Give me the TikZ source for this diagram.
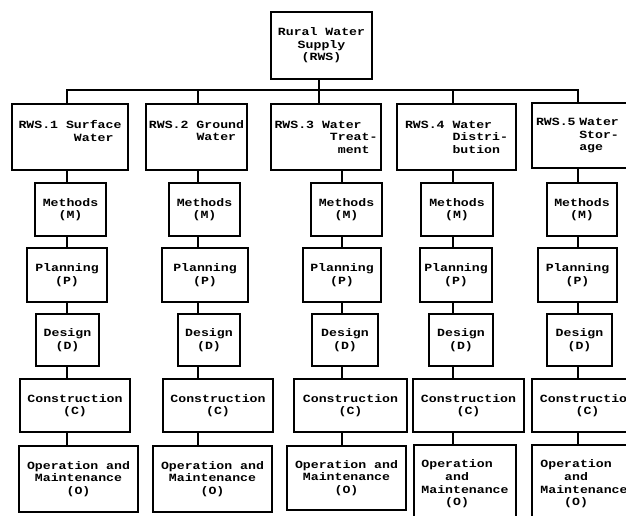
\documentclass[tikz,border=0pt]{standalone}
\usepackage{fontspec}
\newfontfamily\twfont[FakeStretch=1.2]{Liberation Mono}
\begin{document}
\begin{tikzpicture}[x=1pt,y=-1pt,
  box/.style={draw,line width=1.1pt,inner sep=0pt,align=center,
    font=\twfont\bfseries\fontsize{11}{12.6}\selectfont},
  link/.style={line width=1.1pt}]
\useasboundingbox (0,0) rectangle (626,516);
\clip (0,0) rectangle (626,516);
% top
\node[box,minimum width=101,minimum height=67] (top) at (321.5,45.5) {Rural Water\\Supply\\(RWS)};
% level 2
\node[box,minimum width=116,minimum height=66,align=left] (r1) at (70,137) {RWS.1 Surface\\\phantom{RWS.1 S}Water\\\mbox{}};
\node[box,minimum width=101,minimum height=66,align=left] (r2) at (196.5,137) {RWS.2 Ground\\\phantom{RWS.2 }Water\\\mbox{}};
\node[box,minimum width=110,minimum height=66,align=left] (r3) at (326,137) {RWS.3 Water\\\phantom{RWS.3 W}Treat-\\\phantom{RWS.3 Wa}ment};
\node[box,minimum width=119,minimum height=66,align=left] (r4) at (456.5,137) {RWS.4 Water\\\phantom{RWS.4 }Distri-\\\phantom{RWS.4 }bution};
\node[box,inner xsep=4pt,text width=110pt,minimum height=65,align=left] (r5) at (591,135.5) {RWS.5 Water\\\phantom{RWS.5 }Stor-\\\phantom{RWS.5 }age};
% methods
\node[box,minimum width=71,minimum height=53] (m1) at (70.5,209.5) {Methods\\(M)};
\node[box,minimum width=71,minimum height=53] (m2) at (204.5,209.5) {Methods\\(M)};
\node[box,minimum width=71,minimum height=53] (m3) at (346.5,209.5) {Methods\\(M)};
\node[box,minimum width=72,minimum height=53] (m4) at (457,209.5) {Methods\\(M)};
\node[box,minimum width=70,minimum height=53] (m5) at (582,209.5) {Methods\\(M)};
% planning
\node[box,minimum width=80,minimum height=54] (p1) at (67,275) {Planning\\(P)};
\node[box,minimum width=86,minimum height=54] (p2) at (205,275) {Planning\\(P)};
\node[box,minimum width=78,minimum height=54] (p3) at (342,275) {Planning\\(P)};
\node[box,minimum width=72,minimum height=54] (p4) at (456,275) {Planning\\(P)};
\node[box,minimum width=79,minimum height=54] (p5) at (577.5,275) {Planning\\(P)};
% design
\node[box,minimum width=63,minimum height=52] (d1) at (67.5,340) {Design\\(D)};
\node[box,minimum width=62,minimum height=52] (d2) at (209,340) {Design\\(D)};
\node[box,minimum width=66,minimum height=52] (d3) at (345,340) {Design\\(D)};
\node[box,minimum width=64,minimum height=52] (d4) at (461,340) {Design\\(D)};
\node[box,minimum width=65,minimum height=52] (d5) at (579.5,340) {Design\\(D)};
% construction
\node[box,minimum width=110,minimum height=53] (c1) at (75,405.5) {Construction\\(C)};
\node[box,minimum width=110,minimum height=53] (c2) at (218,405.5) {Construction\\(C)};
\node[box,minimum width=113,minimum height=53] (c3) at (350.5,405.5) {Construction\\(C)};
\node[box,minimum width=111,minimum height=53] (c4) at (468.5,405.5) {Construction\\(C)};
\node[box,minimum width=111,minimum height=53] (c5) at (587.5,405.5) {Construction\\(C)};
% operation and maintenance
\node[box,minimum width=119,minimum height=66] (o1) at (78.5,479) {Operation and\\Maintenance\\(O)};
\node[box,minimum width=119,minimum height=66] (o2) at (212.5,479) {Operation and\\Maintenance\\(O)};
\node[box,minimum width=119,minimum height=64] (o3) at (346.5,478) {Operation and\\Maintenance\\(O)};
\node[box,minimum width=102,minimum height=78,align=left] (o4) at (465,484) {Operation\\\phantom{Ope}and\\Maintenance\\\phantom{Ope}(O)};
\node[box,minimum width=104,minimum height=78,align=left] (o5) at (584,484) {Operation\\\phantom{Ope}and\\Maintenance\\\phantom{Ope}(O)};
% column lines
\coordinate (k1) at (67,0);
\coordinate (k2) at (198,0);
\coordinate (k3t) at (319,0);
\coordinate (k3) at (342,0);
\coordinate (k4) at (453,0);
\coordinate (k5) at (578,0);
\coordinate (bus) at (0,90);
% connectors
\draw[link] (top.south -| k3t) -- (r3.north -| k3t);
\draw[link] (r1.north -| k1) -- (bus -| k1) -- (bus -| k5) -- (r5.north -| k5);
\draw[link] (bus -| k2) -- (r2.north -| k2);
\draw[link] (bus -| k4) -- (r4.north -| k4);
\foreach \i/\k in {1/k1,2/k2,3/k3,4/k4,5/k5}{
  \draw[link] (r\i.south -| \k) -- (m\i.north -| \k);
  \draw[link] (m\i.south -| \k) -- (p\i.north -| \k);
  \draw[link] (p\i.south -| \k) -- (d\i.north -| \k);
  \draw[link] (d\i.south -| \k) -- (c\i.north -| \k);
  \draw[link] (c\i.south -| \k) -- (o\i.north -| \k);
}
\end{tikzpicture}
\end{document}
